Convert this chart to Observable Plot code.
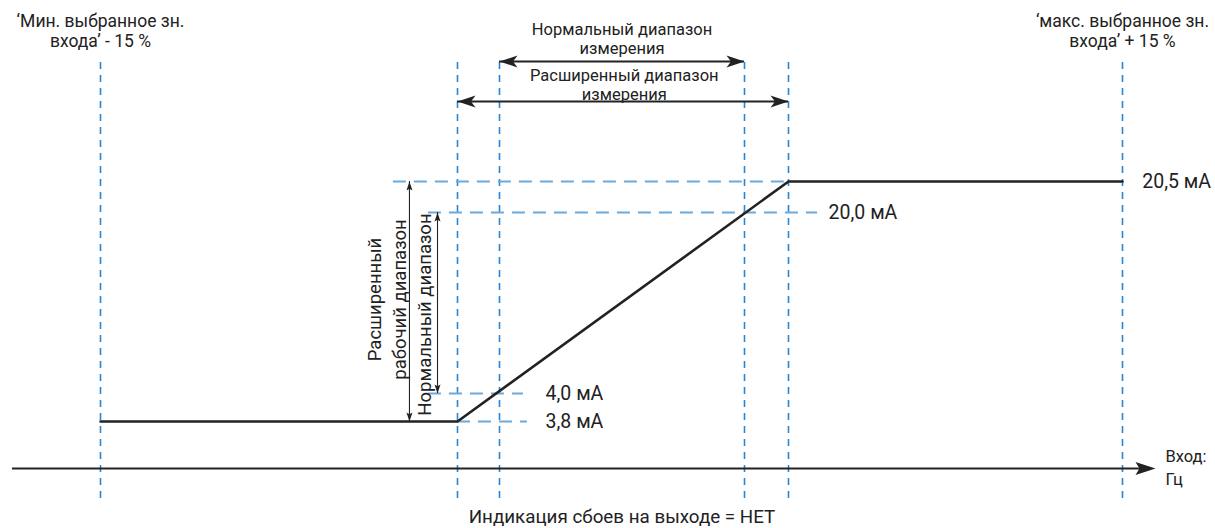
<!DOCTYPE html>
<html><head><meta charset="utf-8">
<script src="https://cdn.jsdelivr.net/npm/d3@7"></script>
<script src="https://cdn.jsdelivr.net/npm/@observablehq/plot@0.6"></script>
<style>body{margin:0;background:#fff}</style>
</head><body><div id="chart"></div>
<script>
// Input in % of selected input range, output in mA (schematic, piecewise scales)
const curveInput = [-15, -1.25, 103.125, 115];
const curveOutput = [3.8, 3.8, 20.5, 20.5];

const markerInputs = [-15, -1.25, 0, 100, 103.125, 115];
const markerBottom = -2;
const markerTop = 23.6;

const levelsMA = [3.8, 4.0, 20.0, 20.5];
const levelLabels = ["3,8 мА", "4,0 мА", "20,0 мА", "20,5 мА"];
const guideFrom = [-1.25, -2.37, -2.37, -3.72];
const guideTo = [11.4, 9.8, 104.16, 103.125];
const levelLabelAt = [18.8, 18.8, 104.55, 116.2];

const rangeLine1 = ["Нормальный диапазон", "Расширенный диапазон"];
const rangeLine2 = ["измерения", "измерения"];
const rangeFrom = [0, -1.25];
const rangeTo = [100, 103.125];
const rangeArrowY = [23.5, 22.5];
const rangeLabelY = [24.05, 22.9];

const opFrom = [3.8, 4.0];
const opTo = [20.5, 20.0];
const opArrowX = [-3.1, -2.02];
const opTexts = ["Расширенный", "рабочий диапазон", "Нормальный диапазон"];
const opTextX = [-4.41, -3.45, -2.48];
const opTextY = [12.31, 12.31, 10.98];

const cornerLine1 = ["‘Мин. выбранное зн.", "‘макс. выбранное зн."];
const cornerLine2 = ["входа’ - 15 %", "входа’ + 15 %"];
const cornerX = [-15, 115];
const cornerY = 24.26;

const axisFrom = -18, axisTo = 117;
const axisLine1 = "Вход:", axisLine2 = "Гц";
const axisLabelX = 117.6;
const footer = "Индикация сбоев на выходе = НЕТ";
const footerY = -3.2;

const X_DOMAIN = [-18, -15, -1.25, 0, 100, 103.125, 115, 117];
const X_RANGE = [12, 100, 457, 499, 744, 788, 1122, 1155];
const Y_DOMAIN = [-4, -2, 0, 3.8, 4, 20, 20.5, 25];
const Y_RANGE = [528, 498, 468, 421, 393, 212, 181, 1];

function head(L, W, notch, dir) {
  const [dx, dy] = dir, nx = -dy, ny = dx;
  return {draw(ctx) {
    ctx.moveTo(0, 0);
    ctx.lineTo(-L*dx + W*nx, -L*dy + W*ny);
    ctx.lineTo(-L*notch*dx, -L*notch*dy);
    ctx.lineTo(-L*dx - W*nx, -L*dy - W*ny);
    ctx.closePath();
  }};
}
const INK = "#222";
const curve = curveInput.map((x, i) => ({x, y: curveOutput[i]}));
const levels = levelsMA.map((y, i) => ({y, label: levelLabels[i], x1: guideFrom[i], x2: guideTo[i], lx: levelLabelAt[i]}));
const ranges = rangeLine1.map((l1, i) => ({l1, l2: rangeLine2[i], x1: rangeFrom[i], x2: rangeTo[i], y: rangeArrowY[i], ly: rangeLabelY[i], xm: (rangeFrom[i] + rangeTo[i]) / 2}));
const ops = opFrom.map((y1, i) => ({y1, y2: opTo[i], x: opArrowX[i]}));
const opLabels = opTexts.map((t, i) => ({t, x: opTextX[i], y: opTextY[i]}));
const corners = cornerLine1.map((l1, i) => ({l1, l2: cornerLine2[i], x: cornerX[i], y: cornerY}));
const FONT = "Roboto";

const chart = Plot.plot({
  width: 1215, height: 528, margin: 0,
  style: {fontFamily: FONT, background: "white", color: INK},
  x: {type: "linear", domain: X_DOMAIN, range: X_RANGE, axis: null},
  y: {type: "linear", domain: Y_DOMAIN, range: Y_RANGE, axis: null},
  marks: [
    Plot.ruleX(markerInputs, {x: d => d, y1: markerBottom, y2: markerTop, stroke: "#2a86d0", strokeWidth: 1.6, strokeDasharray: "7,6"}),
    Plot.ruleY(levels, {y: "y", x1: "x1", x2: "x2", stroke: "#6aaade", strokeWidth: 2, strokeDasharray: "13,8"}),
    Plot.ruleY([0], {x1: axisFrom, x2: axisTo - 0.6, stroke: INK, strokeWidth: 2}),
    Plot.dot([axisTo], {x: d => d, y: 0, r: 5, symbol: head(20, 6.5, 0.8, [1, 0]), fill: INK, stroke: "none"}),
    Plot.line(curve, {x: "x", y: "y", stroke: INK, strokeWidth: 2.6}),
    Plot.ruleY(ranges, {y: "y", x1: "x1", x2: "x2", stroke: INK, strokeWidth: 2}),
    Plot.dot(ranges, {x: "x2", y: "y", r: 5, symbol: head(18, 6, 0.75, [1, 0]), fill: INK, stroke: "none"}),
    Plot.dot(ranges, {x: "x1", y: "y", r: 5, symbol: head(18, 6, 0.75, [-1, 0]), fill: INK, stroke: "none"}),
    Plot.text(ranges, {x: "xm", y: "ly", text: "l1", fontSize: 16.5, dy: -9.7, fill: INK}),
    Plot.text(ranges, {x: "xm", y: "ly", text: "l2", fontSize: 16.5, dy: 9.7, fill: INK}),
    Plot.ruleX(ops, {x: "x", y1: "y1", y2: "y2", stroke: INK, strokeWidth: 1.1}),
    Plot.dot(ops, {x: "x", y: "y2", r: 4, symbol: head(9, 3, 0.8, [0, -1]), fill: INK, stroke: "none"}),
    Plot.dot(ops, {x: "x", y: "y1", r: 4, symbol: head(9, 3, 0.8, [0, 1]), fill: INK, stroke: "none"}),
    Plot.text(opLabels, {x: "x", y: "y", text: "t", rotate: -90, fontSize: 18.5, fill: INK}),
    Plot.text(levels, {x: "lx", y: "y", text: "label", textAnchor: "start", fontSize: 19.5, fill: INK}),
    Plot.text(corners, {x: "x", y: "y", text: "l1", fontSize: 17.5, dy: -10.2, fill: INK}),
    Plot.text(corners, {x: "x", y: "y", text: "l2", fontSize: 17.5, dy: 10.2, fill: INK}),
    Plot.text([axisLine1], {x: axisLabelX, y: 0, text: d => d, textAnchor: "start", fontSize: 16.5, dy: -12, fill: INK}),
    Plot.text([axisLine2], {x: axisLabelX, y: 0, text: d => d, textAnchor: "start", fontSize: 16.5, dy: 11, fill: INK}),
    Plot.text([footer], {x: 50, y: footerY, text: d => d, fontSize: 18.8, fill: INK})
  ]
});
document.getElementById("chart").appendChild(chart);
</script>
</body></html>
